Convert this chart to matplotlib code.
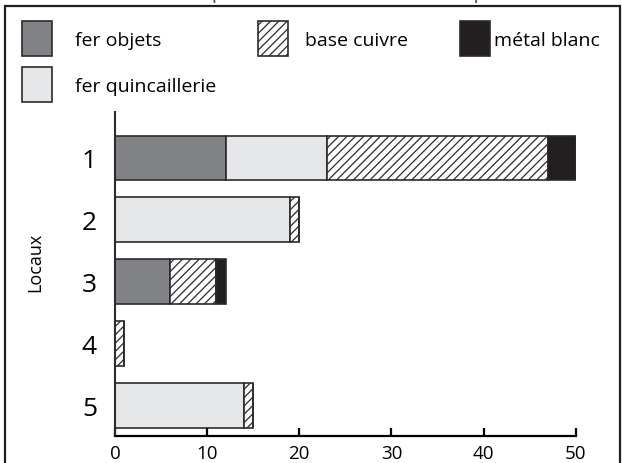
import matplotlib.pyplot as plt
from matplotlib.patches import Rectangle

plt.rcParams['font.family'] = ['Open Sans', 'DejaVu Sans']
plt.rcParams['hatch.linewidth'] = 0.9

locaux = ['1', '2', '3', '4', '5']
fer_objets = [12, 0, 6, 0, 0]
fer_quincaillerie = [11, 19, 0, 0, 14]
base_cuivre = [24, 1, 5, 1, 1]
metal_blanc = [3, 0, 1, 0, 0]

series = [
    ('fer objets', fer_objets, dict(color='#808285', hatch=None)),
    ('fer quincaillerie', fer_quincaillerie, dict(color='#e6e7e8', hatch=None)),
    ('base cuivre', base_cuivre, dict(color='white', hatch='////')),
    ('métal blanc', metal_blanc, dict(color='#231f20', hatch=None)),
]

W, H = 622, 464
fig = plt.figure(figsize=(W / 100, H / 100), dpi=100)
ax = fig.add_axes([115 / W, 1 - 437 / H, (575.7 - 115) / W, (437 - 113) / H])

pos = list(range(1, len(locaux) + 1))
left = [0] * len(locaux)
for name, vals, st in series:
    ax.barh(pos, vals, left=left, height=0.72, color=st['color'], hatch=st['hatch'],
            edgecolor='#2b2b2b', linewidth=1.2)
    left = [a + b for a, b in zip(left, vals)]

ax.set_xlim(0, 50)
ax.set_ylim(5.49, 0.26)
ax.set_yticks(pos)
ax.set_yticklabels(locaux, fontsize=19)
ax.set_xticks(range(0, 51, 10))
ax.tick_params(axis='x', direction='in', length=6, width=1.6, labelsize=13.5, pad=6)
ax.tick_params(axis='y', length=0, pad=13)
for s in ['top', 'right']:
    ax.spines[s].set_visible(False)
ax.spines['bottom'].set_linewidth(1.6)
ax.spines['left'].set_linewidth(1.5)
ax.spines['left'].set_color('#2b2b2b')

fig.text(35 / W, 1 - 262 / H, 'Locaux', rotation=90, ha='center', va='center', fontsize=13)

# outer frame
fig.add_artist(Rectangle((5 / W, -0.05), (620 - 5) / W, 1.05 - 7 / H, transform=fig.transFigure,
                         fill=False, edgecolor='#231f20', linewidth=1.6))

# title, cropped at the top edge as in the source
fig.text(345 / W, 1 + 1 / H, 'Répartition du mobilier métallique', ha='center', va='baseline',
         fontsize=14, color='#444444')

# legend
legend_items = [
    (22, 22, 'fer objets', series[0][2]),
    (258, 22, 'base cuivre', series[2][2]),
    (460, 22, 'métal blanc', series[3][2]),
    (22, 68, 'fer quincaillerie', series[1][2]),
]
text_x = {22: 75, 258: 305, 460: 494}
for x, y, label, st in legend_items:
    fig.add_artist(Rectangle((x / W, 1 - (y + 35) / H), 30 / W, 35 / H, transform=fig.transFigure,
                             facecolor=st['color'], hatch=st['hatch'], edgecolor='#2b2b2b',
                             linewidth=1.2))
    fig.text(text_x[x] / W, 1 - (y + 19) / H, label, ha='left', va='center', fontsize=14)

fig.savefig('out.png', dpi=100)
